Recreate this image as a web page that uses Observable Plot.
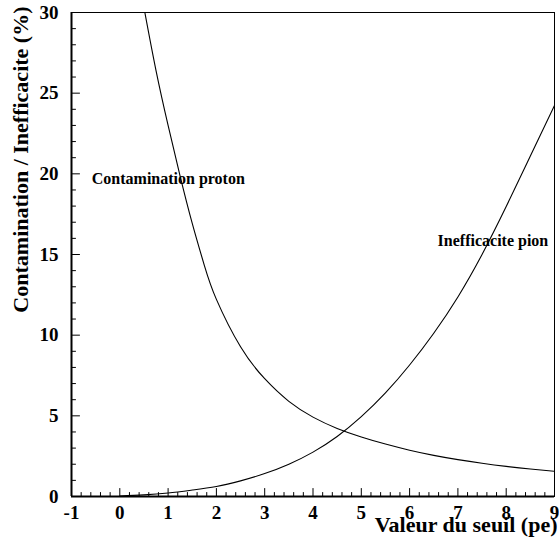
<!DOCTYPE html>
<html>
<head>
<meta charset="utf-8">
<script src="https://cdn.jsdelivr.net/npm/d3@7"></script>
<script src="https://cdn.jsdelivr.net/npm/@observablehq/plot@0.6"></script>
<style>
  html, body { margin: 0; padding: 0; background: #fff; }
  #chart { width: 559px; height: 539px; }
  #chart svg text { font-family: 'Liberation Serif', 'Times New Roman', serif; }
</style>
</head>
<body>
<div id="chart"></div>
<script>
// Contamination proton (%) vs threshold (pe)
const xProton = [0.5, 0.75, 1.0, 1.25, 1.5, 1.75, 2.0, 2.5, 3.0, 3.5, 4.0, 4.5, 5.0, 5.5, 6.0, 6.5, 7.0, 7.5, 8.0, 8.5, 9.0];
const proton  = [30.3, 26.4, 23.0, 19.85, 16.93, 14.33, 12.22, 9.28, 7.3, 5.9, 4.92, 4.22, 3.69, 3.25, 2.87, 2.55, 2.285, 2.06, 1.865, 1.70, 1.56];

// Inefficacite pion (%) vs threshold (pe)
const xPion = [0, 0.5, 1.0, 1.5, 2.0, 2.5, 3.0, 3.5, 4.0, 4.5, 5.0, 5.5, 6.0, 6.5, 7.0, 7.5, 8.0, 8.5, 9.0];
const pion  = [0.03, 0.1, 0.22, 0.4, 0.62, 0.97, 1.42, 2.0, 2.75, 3.72, 4.95, 6.42, 8.15, 10.12, 12.37, 15.0, 17.97, 21.1, 24.24];

const seriesNames = ["Contamination proton", "Inefficacite pion"];
const xTicks = [-1, 0, 1, 2, 3, 4, 5, 6, 7, 8, 9];
const yTicks = [0, 5, 10, 15, 20, 25, 30];
const xMinor = d3.range(-1, 9.001, 0.2).map(v => +v.toFixed(1)).filter(v => !xTicks.includes(v));
const yMinor = d3.range(0, 30.001, 1).filter(v => !yTicks.includes(v));
const xTitle = "Valeur du seuil (pe)";
const yTitle = "Contamination / Inefficacite (%)";

const protonData = xProton.map((x, i) => ({x, y: proton[i]}));
const pionData = xPion.map((x, i) => ({x, y: pion[i]}));

const tickShape = { draw(context, l) { context.moveTo(0, 0); context.lineTo(0, -l); } };
const font = "'Liberation Serif', 'Times New Roman', serif";

const chart = Plot.plot({
  width: 559,
  height: 539,
  marginLeft: 71,
  marginRight: 5,
  marginTop: 12,
  marginBottom: 43,
  x: {domain: [-1, 9]},
  y: {domain: [0, 30]},
  style: {fontFamily: font, background: "white", color: "black"},
  marks: [
    Plot.frame({stroke: "black", strokeWidth: 1}),
    Plot.ruleX([-1], {stroke: "black", strokeWidth: 2}),
    Plot.ruleY([0], {stroke: "black", strokeWidth: 2}),
    // inner ticks
    Plot.vectorX(xTicks, {x: d => d, frameAnchor: "bottom", length: 8, rotate: 0, anchor: "start", shape: tickShape, stroke: "black", strokeWidth: 1}),
    Plot.vectorX(xMinor, {x: d => d, frameAnchor: "bottom", length: 4, rotate: 0, anchor: "start", shape: tickShape, stroke: "black", strokeWidth: 1}),
    Plot.vectorY(yTicks, {y: d => d, frameAnchor: "left", length: 8, rotate: 90, anchor: "start", shape: tickShape, stroke: "black", strokeWidth: 1}),
    Plot.vectorY(yMinor, {y: d => d, frameAnchor: "left", length: 4, rotate: 90, anchor: "start", shape: tickShape, stroke: "black", strokeWidth: 1}),
    // curves
    Plot.lineY(protonData, {x: "x", y: "y", curve: "natural", clip: true, stroke: "black", strokeWidth: 1.1}),
    Plot.lineY(pionData, {x: "x", y: "y", curve: "natural", clip: true, stroke: "black", strokeWidth: 1.1}),
    // annotations
    Plot.text([seriesNames[0]], {x: -0.58, y: 19.4, text: d => d, textAnchor: "start", lineAnchor: "bottom", fontSize: 16, fontWeight: "bold", fontFamily: font, fill: "black"}),
    Plot.text([seriesNames[1]], {x: 6.58, y: 15.5, text: d => d, textAnchor: "start", lineAnchor: "bottom", fontSize: 16, fontWeight: "bold", fontFamily: font, fill: "black"}),
    // tick labels
    Plot.axisX(xTicks, {tickSize: 0, tickPadding: 9, fontSize: 19, fontWeight: "bold", fontFamily: font, fontVariant: "normal", tickFormat: d => String(d), label: null, fill: "black"}),
    Plot.axisY(yTicks, {tickSize: 0, tickPadding: 13, fontSize: 19, fontWeight: "bold", fontFamily: font, fontVariant: "normal", tickFormat: d => String(d), label: null, fill: "black"}),
    // axis titles
    Plot.text([xTitle], {text: d => d, frameAnchor: "bottom-right", textAnchor: "end", lineAnchor: "bottom", dx: 3, dy: 35, fontSize: 22, fontWeight: "bold", fontFamily: font, fill: "black"}),
    Plot.text([yTitle], {text: d => d, frameAnchor: "top-left", textAnchor: "end", lineAnchor: "middle", rotate: -90, dx: -51, dy: -6, fontSize: 22, fontWeight: "bold", fontFamily: font, fill: "black"})
  ]
});
document.getElementById("chart").appendChild(chart);
</script>
</body>
</html>
